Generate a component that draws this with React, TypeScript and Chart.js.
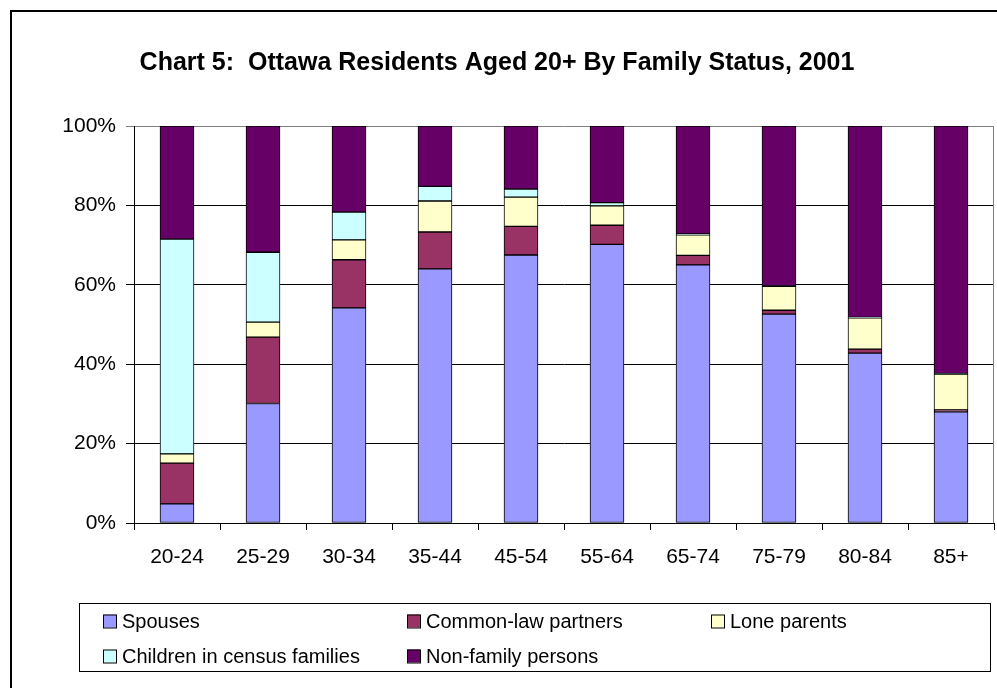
import React, { useEffect, useRef } from "react";
import { Chart, registerables } from "chart.js";

Chart.register(...registerables);

const TITLE = "Chart 5:  Ottawa Residents Aged 20+ By Family Status, 2001";
const categories = ["20-24", "25-29", "30-34", "35-44", "45-54", "55-64", "65-74", "75-79", "80-84", "85+"];
const seriesNames = ["Spouses", "Common-law partners", "Lone parents", "Children in census families", "Non-family persons"];
const seriesColors = ["#9999FF", "#993366", "#FFFFCC", "#CCFFFF", "#660066"];
const spouses = [4.8, 30.1, 54.2, 64.0, 67.5, 70.2, 65.0, 52.6, 42.8, 28.0];
const commonLaw = [10.3, 16.7, 12.1, 9.3, 7.2, 4.8, 2.4, 1.0, 1.0, 0.5];
const loneParents = [2.3, 3.8, 5.0, 7.8, 7.4, 4.9, 5.2, 6.0, 7.9, 9.0];
const children = [54.1, 17.6, 7.0, 3.7, 2.0, 0.8, 0.2, 0.1, 0.1, 0.1];
const nonFamily = [28.5, 31.8, 21.7, 15.2, 15.9, 19.3, 27.2, 40.3, 48.2, 62.4];
const yTicks = [0, 20, 40, 60, 80, 100];

const FONT = "Arial, 'Liberation Sans', sans-serif";

const framePlugin = {
  id: "frame",
  beforeDraw(chart: any) {
    const ctx = chart.ctx;
    ctx.save();
    ctx.fillStyle = "#fff";
    ctx.fillRect(0, 0, chart.width, chart.height);
    ctx.strokeStyle = "#000";
    ctx.lineWidth = 2;
    ctx.strokeRect(11, 11, chart.width + 20, chart.height + 20);
    ctx.restore();
  },
  afterDatasetsDraw(chart: any) {
    const ctx = chart.ctx;
    const a = chart.chartArea;
    ctx.save();
    ctx.strokeStyle = "#808080";
    ctx.lineWidth = 1;
    ctx.beginPath();
    ctx.moveTo(Math.round(a.right) - 0.5, a.top);
    ctx.lineTo(Math.round(a.right) - 0.5, a.bottom);
    ctx.stroke();
    ctx.restore();
  },
  afterDraw(chart: any) {
    const ctx = chart.ctx;
    ctx.save();
    ctx.strokeStyle = "#000";
    ctx.lineWidth = 1;
    ctx.strokeRect(79.5, 603.5, 911, 68);
    const colX = [103, 407, 711];
    const rowY = [621, 656];
    ctx.font = "20px " + FONT;
    ctx.textBaseline = "middle";
    ctx.textAlign = "left";
    chart.data.datasets.forEach((ds: any, i: number) => {
      const x = colX[i % 3];
      const y = rowY[Math.floor(i / 3)];
      ctx.fillStyle = ds.backgroundColor;
      ctx.fillRect(x, y - 6.5, 13, 13);
      ctx.strokeStyle = "#000";
      ctx.strokeRect(x + 0.5, y - 6, 13, 13);
      ctx.fillStyle = "#000";
      ctx.fillText(ds.label, x + 19, y + 1);
    });
    ctx.restore();
  },
};

export default function App() {
  const ref = useRef<HTMLCanvasElement>(null);
  useEffect(() => {
    document.body.style.margin = "0";
    const values = [spouses, commonLaw, loneParents, children, nonFamily];
    const chart = new Chart(ref.current!, {
      type: "bar",
      data: {
        labels: categories,
        datasets: values.map((v, i) => ({
          label: seriesNames[i],
          data: v,
          backgroundColor: seriesColors[i],
          borderColor: "#000",
          borderWidth: 1,
          borderSkipped: false,
          barThickness: 34,
        })),
      },
      options: {
        animation: false,
        responsive: false,
        maintainAspectRatio: false,
        layout: { padding: { top: 0, right: 3, left: 0, bottom: 0 } },
        plugins: {
          legend: { display: false },
          tooltip: { enabled: false },
          title: {
            display: true,
            text: TITLE,
            color: "#000",
            font: { family: FONT, size: 25, weight: "bold", lineHeight: 1.2 },
            padding: { top: 48, bottom: 48 },
          },
        },
        scales: {
          x: {
            stacked: true,
            afterFit: (s: any) => { s.height = 165; },
            grid: { display: true, drawOnChartArea: false, drawTicks: true, tickLength: 7, color: "#000", offset: true },
            border: { display: true, color: "#000" },
            ticks: { color: "#000", font: { family: FONT, size: 21 }, padding: 15 },
          },
          y: {
            stacked: true,
            min: 0,
            max: 100,
            afterFit: (s: any) => { s.width = 134; },
            afterBuildTicks: (s: any) => { s.ticks = yTicks.map((v) => ({ value: v })); },
            grid: {
              color: (c: any) => (c.tick && c.tick.value === 100 ? "#808080" : "#000"),
              tickLength: 8,
              drawTicks: true,
            },
            border: { display: true, color: "#000" },
            ticks: { color: "#000", font: { family: FONT, size: 21 }, padding: 10, callback: (v: any) => v + "%" },
          },
        },
      },
      plugins: [framePlugin],
    });
    return () => chart.destroy();
  }, []);
  return <canvas ref={ref} width={997} height={688} style={{ display: "block" }} />;
}
